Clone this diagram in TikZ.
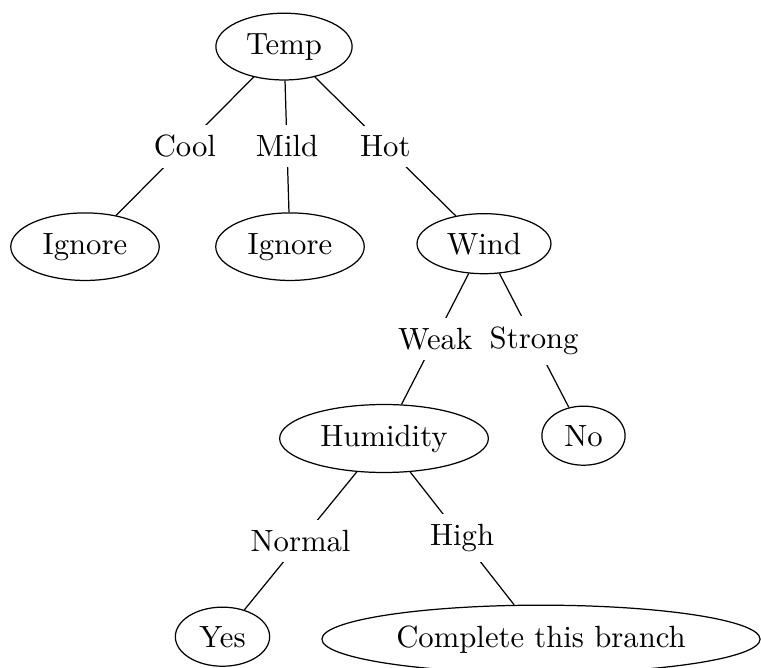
\documentclass[tikz,border=0pt]{standalone}
\usetikzlibrary{shapes.geometric}
\begin{document}
\begin{tikzpicture}[x=0.3257pt,y=-0.3257pt,
  tnode/.style={draw,ellipse,anchor=base},
  lbl/.style={fill=white}]
\useasboundingbox (0,0) rectangle (761,667);
\node[tnode] (temp) at (284,54) {Temp};
\node[tnode] (ign1) at (85,254) {Ignore};
\node[tnode] (ign2) at (290,254) {Ignore};
\node[tnode] (wind) at (484,254) {Wind};
\node[tnode] (hum) at (384,446) {Humidity};
\node[tnode] (no) at (583.5,446) {No};
\node[tnode] (yes) at (222.5,647) {Yes};
\node[tnode] (comp) at (541,647) {Complete this branch};
\draw (temp) -- node[lbl]{Cool} (ign1);
\draw (temp) -- node[lbl]{Mild} (ign2);
\draw (temp) -- node[lbl]{Hot} (wind);
\draw (wind) -- node[lbl]{Weak} (hum);
\draw (wind) -- node[lbl]{Strong} (no);
\draw (hum) -- node[lbl]{Normal} (yes);
\draw (hum) -- node[lbl]{High} (comp);
\end{tikzpicture}
\end{document}
